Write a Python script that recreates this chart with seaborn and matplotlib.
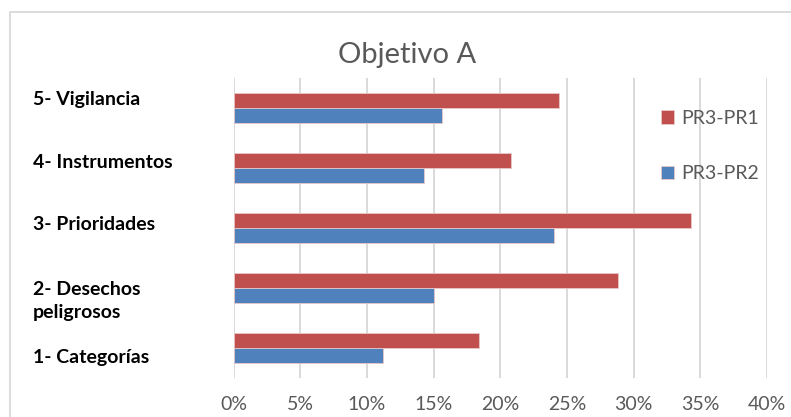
import pandas as pd
import seaborn as sns
import matplotlib.pyplot as plt
import matplotlib.patches as patches
from matplotlib.ticker import PercentFormatter
import matplotlib.transforms as mtransforms

# Datos del gráfico (porcentajes)
categorias = ['5- Vigilancia', '4- Instrumentos', '3- Prioridades',
              '2- Desechos\npeligrosos', '1- Categorías']
pr3_pr1 = [24.4, 20.8, 34.3, 28.8, 18.4]
pr3_pr2 = [15.6, 14.3, 24.0, 15.0, 11.2]
series = ['PR3-PR1', 'PR3-PR2']
colores = ['#C0504D', '#4F81BD']

df = pd.DataFrame({
    'categoria': categorias * 2,
    'serie': [series[0]] * len(categorias) + [series[1]] * len(categorias),
    'valor': pr3_pr1 + pr3_pr2,
})

sns.set_style('white')
plt.rcParams['font.family'] = ['Lato', 'DejaVu Sans']

fig = plt.figure(figsize=(7.91, 4.17), dpi=100)
ax = fig.add_axes([233.5 / 791, 1 - 378 / 417, (767 - 233.5) / 791, 300 / 417])

sns.barplot(data=df, x='valor', y='categoria', hue='serie', order=categorias,
            hue_order=series, palette=colores, orient='h', width=0.5,
            saturation=1, edgecolor='#e8c8c8', linewidth=0.6, ax=ax)

ax.set_xlim(0, 40)
ax.set_ylim(4.5, -0.5)
ax.set_xticks(range(0, 41, 5))
ax.xaxis.set_major_formatter(PercentFormatter(decimals=0))
ax.grid(axis='x', color='#D9D9D9', linewidth=1.4)
ax.set_axisbelow(True)
for s in ax.spines.values():
    s.set_visible(False)
ax.tick_params(axis='x', length=0, pad=13, labelsize=14, labelcolor='#595959')
ax.set_yticks([])
ax.set_xlabel('')
ax.set_ylabel('')

# Etiquetas de categorías (alineadas a la izquierda)
desplazamientos = [-0.14, -0.09, -0.06, 0.22, 0.16]
trans = mtransforms.blended_transform_factory(fig.transFigure, ax.transData)
for i, (cat, d) in enumerate(zip(categorias, desplazamientos)):
    ax.text(33 / 791, i + d, cat, transform=trans, ha='left', va='center',
            fontsize=14, fontweight='bold', color='black', linespacing=1.4)

# Título
fig.text(407 / 791, 1 - 55 / 417, 'Objetivo A', ha='center', va='center',
         fontsize=21, color='#595959')

# Leyenda
handles, labels = ax.get_legend_handles_labels()
ax.legend(handles, labels, loc='upper left', bbox_to_anchor=(643 / 791, 1 - 92 / 417),
          bbox_transform=fig.transFigure, frameon=False, fontsize=14,
          labelcolor='#595959', handlelength=0.7, handleheight=0.7,
          handletextpad=0.35, labelspacing=2.0)

# Borde del área del gráfico
fig.patches.append(patches.Rectangle((10 / 791, -0.1), 1.2, 1.1 - 12 / 417,
                                     transform=fig.transFigure, fill=False,
                                     edgecolor='#D9D9D9', linewidth=1.3))

plt.savefig('out.png', dpi=100)
